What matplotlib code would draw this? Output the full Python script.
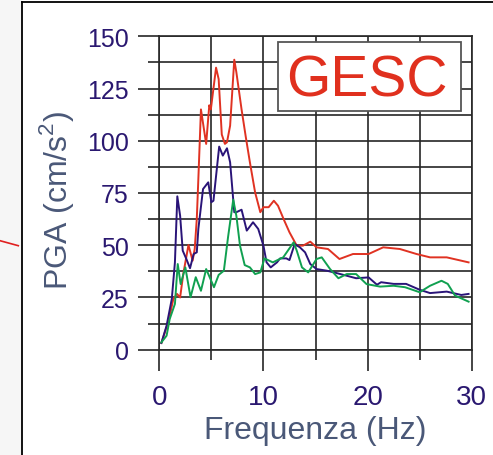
import matplotlib
matplotlib.use("Agg")
import matplotlib.pyplot as plt
from matplotlib.patches import Rectangle
from matplotlib.lines import Line2D
from matplotlib.ticker import MultipleLocator

plt.rcParams['font.family'] = ['Liberation Sans', 'DejaVu Sans']
plt.rcParams['mathtext.fontset'] = 'custom'
plt.rcParams['mathtext.rm'] = 'Liberation Sans'

# ---- data ----
red_f = [0.2, 0.9, 1.35, 1.7, 2.0, 2.3, 2.8, 3.2, 3.4, 3.6, 3.75, 4.0, 4.5, 4.8, 4.95,
         5.45, 5.7, 6.0, 6.3, 6.5, 6.8, 7.2, 7.4, 7.9, 8.3, 8.7, 9.2, 9.7, 10.0, 10.5,
         11.0, 11.4, 12.0, 12.5, 13.2, 13.8, 14.5, 15.1, 16.2, 17.3, 18.6, 20.1, 21.5,
         23.1, 24.7, 26.0, 27.6, 29.7]
red_v = [3.2, 13.9, 24.3, 26.7, 25, 36.2, 50.1, 42.6, 48.2, 62.6, 81.7, 115, 98.5, 117, 115,
         135, 129.5, 103, 98.5, 99.3, 107.2, 138.8, 132.8, 115, 102, 89.7, 75.3, 65.8, 68.2, 68.2,
         71.3, 68.9, 61.8, 56.2, 49.8, 49.8, 51.7, 49, 48.2, 43.4, 45.8, 45.8, 49,
         48.2, 45.8, 44.2, 44.2, 41.8]

blue_f = [0.2, 0.7, 1.2, 1.5, 1.73, 2.0, 2.25, 2.6, 2.95, 3.3, 3.6, 3.75, 4.2, 4.7, 5.0, 5.2,
          5.75, 6.1, 6.5, 6.8, 7.2, 7.4, 7.9, 8.4, 9.0, 9.5, 10.0, 10.3, 10.7, 11.3, 11.6,
          12.2, 12.5, 13.0, 13.5, 14.0, 14.5, 15.1, 16.1, 17.0, 18.0, 18.9, 20.1, 20.9, 21.3,
          22.5, 23.7, 25.0, 26.0, 27.6, 29.0, 29.7]
blue_v = [3.2, 11.5, 24.3, 41.8, 73.4, 64.1, 47.4, 43.4, 39, 45.8, 46.6, 57.8, 76.9, 80.1, 70.6, 71.3,
          97.2, 92.9, 96.4, 89.7, 65.8, 65.8, 67, 57, 61, 57.8, 49.8, 41.8, 39.4, 41.8, 43.7,
          43.7, 42.9, 50.6, 49, 46.6, 41, 38.6, 37.8, 36.7, 35.4, 34.2, 34.6, 31.1, 32.3,
          31.5, 31.5, 28.7, 27.1, 27.8, 26.2, 26.7]

green_f = [0.2, 0.7, 1.0, 1.5, 1.77, 2.05, 2.5, 3.0, 3.5, 4.0, 4.5, 5.25, 5.7, 6.2, 6.6,
           7.1, 7.4, 7.75, 8.2, 8.7, 9.2, 9.7, 10.1, 10.9, 11.9, 12.9, 13.2, 13.7, 14.3, 15.1,
           15.6, 16.4, 17.2, 18.0, 18.9, 19.9, 21.2, 22.5, 23.6, 25.0, 26.0, 27.1, 27.7,
           28.4, 29.7]
green_v = [3.5, 6.7, 14.7, 21.9, 41, 31.4, 39.4, 25.1, 34.7, 28.2, 38.6, 29.9, 35.8, 37.8, 53.8,
           71.8, 64.1, 49.8, 40.5, 39.4, 36.2, 37, 43.7, 41.8, 44.2, 51.4, 47.4, 39.4, 37, 43.4,
           44.2, 38.6, 34.2, 36.2, 36.2, 31.4, 30.2, 30.6, 29.9, 27.5, 30.6, 33, 31.5,
           25.9, 23]

x_ticks = [0, 10, 20, 30]
y_ticks = [0, 25, 50, 75, 100, 125, 150]
title_box = "GESC"
x_label = "Frequenza (Hz)"
y_label = r"PGA (cm/s$^\mathregular{2}$)"

# ---- figure ----
W, H = 493, 456
fig = plt.figure(figsize=(W / 100, H / 100), dpi=100)
fig.patch.set_facecolor('white')

# slide frame decorations
fig.add_artist(Rectangle((0, 0), 21.5 / W, 1, transform=fig.transFigure,
                         facecolor='#f6f6f6', edgecolor='none', zorder=0))
fig.add_artist(Line2D([22 / W, 22 / W], [0, 1 - 3.3 / H], transform=fig.transFigure,
                      color='black', lw=1.3))
fig.add_artist(Line2D([22 / W, 1], [1 - 3.3 / H, 1 - 3.3 / H], transform=fig.transFigure,
                      color='black', lw=1.3))
fig.add_artist(Line2D([0, 18.3 / W], [1 - 241.7 / H, 1 - 246.7 / H], transform=fig.transFigure,
                      color='#e02020', lw=1.2))

ax = fig.add_axes([159.3 / W, 1 - 350.7 / H, 312.4 / W, 313.4 / H])
ax.set_xlim(0, 30)
ax.set_ylim(0, 150)

grid_c = '#262626'
ax.xaxis.set_major_locator(MultipleLocator(10))
ax.xaxis.set_minor_locator(MultipleLocator(5))
ax.yaxis.set_major_locator(MultipleLocator(25))
ax.yaxis.set_minor_locator(MultipleLocator(12.5))
ax.set_xticks(x_ticks)
ax.set_yticks(y_ticks)
ax.grid(True, which='both', color=grid_c, lw=1.2)
ax.set_axisbelow(True)
for s in ax.spines.values():
    s.set_color(grid_c)
    s.set_linewidth(1.2)

lab_c = '#2a1870'
ax.tick_params(axis='y', which='major', length=15, width=1.2, color=grid_c,
               labelsize=18, labelcolor=lab_c, pad=7)
ax.tick_params(axis='y', which='minor', length=7.7, width=1.2, color=grid_c)
ax.tick_params(axis='x', which='major', length=15, width=1.2, color=grid_c,
               labelsize=20, labelcolor=lab_c, pad=10)
ax.tick_params(axis='x', which='minor', length=7.5, width=1.2, color=grid_c)

ax.plot(red_f, red_v, color='#e03222', lw=1.4, zorder=3)
ax.plot(blue_f, blue_v, color='#2a1478', lw=1.4, zorder=4)
ax.plot(green_f, green_v, color='#10a050', lw=1.4, zorder=5)

axis_c = '#4a5878'
ax.set_xlabel(x_label, fontsize=23, color=axis_c, labelpad=3)
ax.set_ylabel(y_label, fontsize=23, color=axis_c)
ax.yaxis.label.set_va('center')
ax.yaxis.set_label_coords((57 - 159.3) / 312.4, (350.7 - 200) / 313.4)

# GESC box
x0 = (278 - 159.3) / 312.4
x1 = (461 - 159.3) / 312.4
yb = (350.7 - 111.7) / 313.4
yt = (350.7 - 42.7) / 313.4
ax.add_patch(Rectangle((x0, yb), x1 - x0, yt - yb, transform=ax.transAxes,
                       facecolor='white', edgecolor='#555555', lw=1.3, zorder=6))
ax.text((366.5 - 159.3) / 312.4, (350.7 - 96.7) / 313.4, title_box,
        transform=ax.transAxes, ha='center', va='baseline', fontsize=41,
        color='#e0301e', zorder=7)

fig.savefig('out.png', dpi=100)
